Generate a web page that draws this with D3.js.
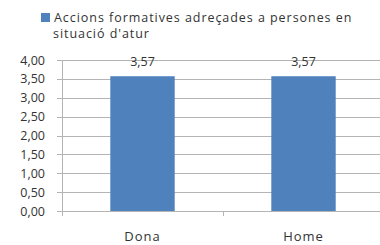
<!DOCTYPE html>
<html>
<head>
<meta charset="utf-8">
<script src="https://cdn.jsdelivr.net/npm/d3@7"></script>
<style>
  body { margin: 0; background: #fff; }
  text { font-family: "Open Sans", "DejaVu Sans", sans-serif; fill: #333; }
</style>
</head>
<body>
<div id="chart"></div>
<script>
// chart data
var categories = ['Dona', 'Home'];
var values = [3.57, 3.57];
var y_ticks = [0, 0.5, 1, 1.5, 2, 2.5, 3, 3.5, 4];
var legend_lines = ['Accions formatives adreçades a persones en', 'situació d\'atur'];

var width = 380;
var height = 245;

var left = 62;
var right = 384;
var top_y = 60;
var bottom_y = 211;

var svg = d3.select('#chart')
  .append('svg')
    .attr('width', width)
    .attr('height', height);

var x = d3.scaleBand()
    .domain(categories)
    .range([left, right])
    .paddingInner(0.6)
    .paddingOuter(0.3);

var y = d3.scaleLinear()
    .domain([0, 4])
    .range([bottom_y, top_y]);

var fmt = function(d) { return d.toFixed(2).replace('.', ','); };

// grid lines
svg.append('g')
    .selectAll('line.grid')
    .data(y_ticks)
  .enter()
    .append('line')
    .attr('stroke', '#b4b4b4')
    .attr('stroke-width', 1)
    .attr('x1', left - 5)
    .attr('x2', width)
    .attr('y1', function(d) { return Math.round(y(d)) + 0.5; })
    .attr('y2', function(d) { return Math.round(y(d)) + 0.5; });

// y tick labels
svg.append('g')
    .selectAll('text.ytick')
    .data(y_ticks)
  .enter()
    .append('text')
    .attr('font-size', '12.5px')
    .style('text-anchor', 'end')
    .attr('x', left - 17)
    .attr('y', function(d) { return y(d) + 4.5; })
    .text(fmt);

// y axis line
svg.append('line')
    .attr('stroke', '#b4b4b4')
    .attr('x1', left + 0.5).attr('x2', left + 0.5)
    .attr('y1', y(4)).attr('y2', bottom_y + 5);

// bars
svg.append('g')
    .selectAll('rect')
    .data(values)
  .enter()
    .append('rect')
    .attr('fill', '#4f81bd')
    .attr('x', function(d, i) { return x(categories[i]); })
    .attr('width', x.bandwidth())
    .attr('y', function(d) { return y(d); })
    .attr('height', function(d) { return bottom_y - y(d); });

// category divider tick
var step = x.step();
svg.append('line')
    .attr('stroke', '#b4b4b4')
    .attr('x1', Math.round(x(categories[0]) + x.bandwidth() / 2 + step / 2) + 0.5)
    .attr('x2', Math.round(x(categories[0]) + x.bandwidth() / 2 + step / 2) + 0.5)
    .attr('y1', bottom_y)
    .attr('y2', bottom_y + 5);

// value labels
svg.append('g')
    .selectAll('text.val')
    .data(values)
  .enter()
    .append('text')
    .attr('font-size', '12.5px')
    .style('text-anchor', 'middle')
    .attr('x', function(d, i) { return x(categories[i]) + x.bandwidth() / 2; })
    .attr('y', function(d) { return y(d) - 10; })
    .text(function(d) { return d.toFixed(2).replace('.', ','); });

// category labels
svg.append('g')
    .selectAll('text.cat')
    .data(categories)
  .enter()
    .append('text')
    .attr('font-size', '13px')
    .attr('letter-spacing', '1px')
    .style('text-anchor', 'middle')
    .attr('x', function(d) { return x(d) + x.bandwidth() / 2; })
    .attr('y', bottom_y + 30)
    .text(function(d) { return d; });

// legend
svg.append('rect')
    .attr('fill', '#4f81bd')
    .attr('x', 41).attr('y', 13)
    .attr('width', 9).attr('height', 9);

svg.append('g')
    .selectAll('text.legend')
    .data(legend_lines)
  .enter()
    .append('text')
    .attr('font-size', '12.5px')
    .attr('letter-spacing', '0.95px')
    .attr('x', function(d, i) { return i == 0 ? 54 : 53; })
    .attr('y', function(d, i) { return 22 + i * 16; })
    .text(function(d) { return d; });
</script>
</body>
</html>
